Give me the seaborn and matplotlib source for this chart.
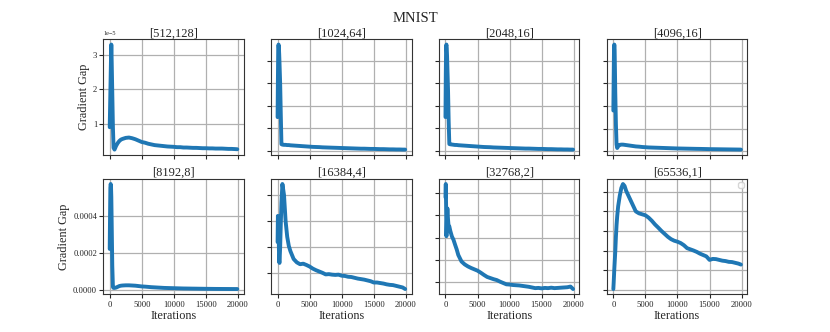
import matplotlib

matplotlib.use("Agg")
import matplotlib.pyplot as plt
import seaborn as sns

# shared x axis (training iterations)
ITERATIONS = [
    0, 50, 100, 150, 200, 250, 300, 400, 500, 600, 750, 1000, 1250, 1500, 1750, 2000,
    2500, 3000, 3500, 4000, 4500, 5000, 5500, 6000, 6500, 7000, 7500, 8000, 8500, 9000, 9500, 10000,
    10500, 11000, 11500, 12000, 12500, 13000, 13500, 14000, 14500, 15000, 15500, 16000, 16500, 17000, 17500, 18000,
    18500, 19000, 19500, 19900,
]

PANEL_TITLES = [
    "[512,128]", "[1024,64]", "[2048,16]", "[4096,16]",
    "[8192,8]", "[16384,4]", "[32768,2]", "[65536,1]",
]

# top row values are in units of 1e-5, bottom row in units of 1e-4
TOP_SCALE = 1e-5
BOTTOM_SCALE = 1e-4

GAP_512_128 = [
    0.9, 1.4, 1.9, 2.4, 2.9, 3.3, 2.9, 1.9, 0.9, 0.3, 0.25, 0.36, 0.44, 0.5, 0.54, 0.56,
    0.59, 0.6, 0.58, 0.55, 0.51, 0.47, 0.45, 0.42, 0.4, 0.38, 0.37, 0.36, 0.35, 0.34, 0.335, 0.33,
    0.32, 0.32, 0.31, 0.31, 0.305, 0.3, 0.3, 0.295, 0.29, 0.29, 0.285, 0.285, 0.28, 0.28, 0.28, 0.275,
    0.27, 0.27, 0.265, 0.26,
]
GAP_1024_64 = [
    1.5, 3.2, 4.6, 4.72, 4.6, 4.3, 3.9, 3.0, 1.6, 0.3, 0.28, 0.27, 0.27, 0.26, 0.26, 0.25,
    0.24, 0.23, 0.22, 0.21, 0.2, 0.19, 0.18, 0.175, 0.17, 0.16, 0.155, 0.15, 0.145, 0.14, 0.135, 0.13,
    0.125, 0.12, 0.115, 0.11, 0.105, 0.1, 0.1, 0.095, 0.09, 0.09, 0.085, 0.08, 0.08, 0.075, 0.07, 0.07,
    0.065, 0.065, 0.06, 0.06,
]
GAP_2048_16 = [
    1.5, 3.4, 4.65, 4.72, 4.55, 4.2, 3.7, 2.7, 1.3, 0.3, 0.29, 0.28, 0.27, 0.26, 0.26, 0.25,
    0.24, 0.23, 0.22, 0.21, 0.2, 0.19, 0.18, 0.17, 0.165, 0.16, 0.15, 0.145, 0.14, 0.135, 0.13, 0.125,
    0.12, 0.115, 0.11, 0.105, 0.1, 0.1, 0.095, 0.09, 0.085, 0.085, 0.08, 0.075, 0.075, 0.07, 0.065, 0.065,
    0.06, 0.06, 0.055, 0.055,
]
GAP_4096_16 = [
    1.8, 3.2, 4.5, 4.72, 4.5, 3.6, 2.6, 1.2, 0.3, 0.14, 0.22, 0.28, 0.29, 0.29, 0.28, 0.27,
    0.25, 0.23, 0.21, 0.2, 0.185, 0.175, 0.165, 0.16, 0.155, 0.15, 0.145, 0.14, 0.135, 0.13, 0.125, 0.12,
    0.117, 0.114, 0.111, 0.108, 0.105, 0.102, 0.1, 0.097, 0.094, 0.09, 0.088, 0.086, 0.084, 0.082, 0.08, 0.078,
    0.076, 0.074, 0.072, 0.07,
]
GAP_8192_8 = [
    2.2, 4.0, 5.5, 5.7, 5.6, 5.0, 3.8, 1.3, 0.15, 0.1, 0.1, 0.12, 0.16, 0.2, 0.22, 0.23,
    0.24, 0.24, 0.23, 0.22, 0.2, 0.18, 0.17, 0.155, 0.14, 0.13, 0.12, 0.11, 0.1, 0.095, 0.09, 0.085,
    0.08, 0.075, 0.07, 0.068, 0.065, 0.062, 0.06, 0.057, 0.055, 0.052, 0.05, 0.048, 0.046, 0.045, 0.044, 0.043,
    0.042, 0.041, 0.04, 0.04,
]
GAP_16384_4 = [
    2.2, 3.2, 2.3, 3.1, 2.0, 1.45, 1.4, 2.0, 2.9, 3.7, 4.42, 4.0, 3.0, 2.4, 2.05, 1.85,
    1.55, 1.42, 1.35, 1.37, 1.32, 1.26, 1.18, 1.12, 1.07, 1.02, 0.96, 0.97, 0.95, 0.94, 0.95, 0.91,
    0.9, 0.87, 0.86, 0.83, 0.8, 0.78, 0.76, 0.73, 0.7, 0.65, 0.65, 0.63, 0.61, 0.58, 0.56, 0.55,
    0.52, 0.49, 0.46, 0.4,
]
GAP_32768_2 = [
    4.8, 5.39, 4.4, 3.06, 3.5, 4.0, 4.3, 3.8, 3.45, 3.5, 3.3, 3.05, 2.9, 2.68, 2.47, 2.22,
    1.93, 1.8, 1.71, 1.64, 1.58, 1.52, 1.43, 1.33, 1.24, 1.19, 1.14, 1.1, 1.03, 0.97, 0.91, 0.9,
    0.88, 0.87, 0.86, 0.84, 0.82, 0.8, 0.77, 0.74, 0.75, 0.73, 0.75, 0.74, 0.76, 0.74, 0.75, 0.76,
    0.77, 0.78, 0.81, 0.7,
]
GAP_65536_1 = [
    0.03, 0.35, 0.7, 1.05, 1.35, 1.65, 1.95, 2.7, 3.3, 3.75, 4.26, 4.8, 5.2, 5.4, 5.3, 5.05,
    4.7, 4.35, 4.0, 3.9, 3.85, 3.8, 3.68, 3.52, 3.33, 3.17, 3.0, 2.85, 2.7, 2.58, 2.5, 2.45,
    2.38, 2.27, 2.12, 2.06, 2.0, 1.93, 1.84, 1.77, 1.7, 1.52, 1.57, 1.56, 1.52, 1.48, 1.46, 1.42,
    1.41, 1.37, 1.33, 1.28,
]

SERIES = [
    (GAP_512_128, TOP_SCALE), (GAP_1024_64, TOP_SCALE),
    (GAP_2048_16, TOP_SCALE), (GAP_4096_16, TOP_SCALE),
    (GAP_8192_8, BOTTOM_SCALE), (GAP_16384_4, BOTTOM_SCALE),
    (GAP_32768_2, BOTTOM_SCALE), (GAP_65536_1, BOTTOM_SCALE),
]

sns.set_theme(style="ticks")
plt.rcParams["font.family"] = ["Liberation Serif", "DejaVu Serif"]

fig, axes = plt.subplots(2, 4, figsize=(8.3, 3.32), dpi=100)
fig.subplots_adjust(left=0.1245, right=0.9004, top=0.8816, bottom=0.1136,
                    wspace=0.196, hspace=0.207)

for i, (ax, title, (values, scale)) in enumerate(zip(axes.flat, PANEL_TITLES, SERIES)):
    row, col = divmod(i, 4)
    gap = [v * scale for v in values]
    sns.lineplot(x=ITERATIONS, y=gap, ax=ax, color="#1f77b4", linewidth=2.8)

    ax.set_title(title, fontsize=9, pad=2)
    ax.grid(True, color="#b0b0b0", linewidth=0.9)
    ax.set_xticks([0, 5000, 10000, 15000, 20000])
    ax.tick_params(labelsize=6.2, length=3, width=0.8, pad=1.5)
    ax.yaxis.get_offset_text().set_fontsize(4.5)
    for spine in ax.spines.values():
        spine.set_color("#333333")
        spine.set_linewidth(0.8)

    if row == 0:
        ax.tick_params(labelbottom=False)
        ax.set_xlabel("")
    else:
        ax.set_xlabel("Iterations", fontsize=8.8, labelpad=1)

    if col == 0:
        ax.set_ylabel("Gradient Gap", fontsize=8.8, labelpad=2)
    else:
        ax.tick_params(labelleft=False)
        ax.yaxis.get_offset_text().set_visible(False)
        ax.set_ylabel("")

# the original figure carries an empty legend box in the last panel
axes[1, 3].legend(handles=[], loc="upper right", fontsize=5)

fig.suptitle("MNIST", fontsize=10.5, y=0.965)
fig.savefig("out.png", dpi=100)
